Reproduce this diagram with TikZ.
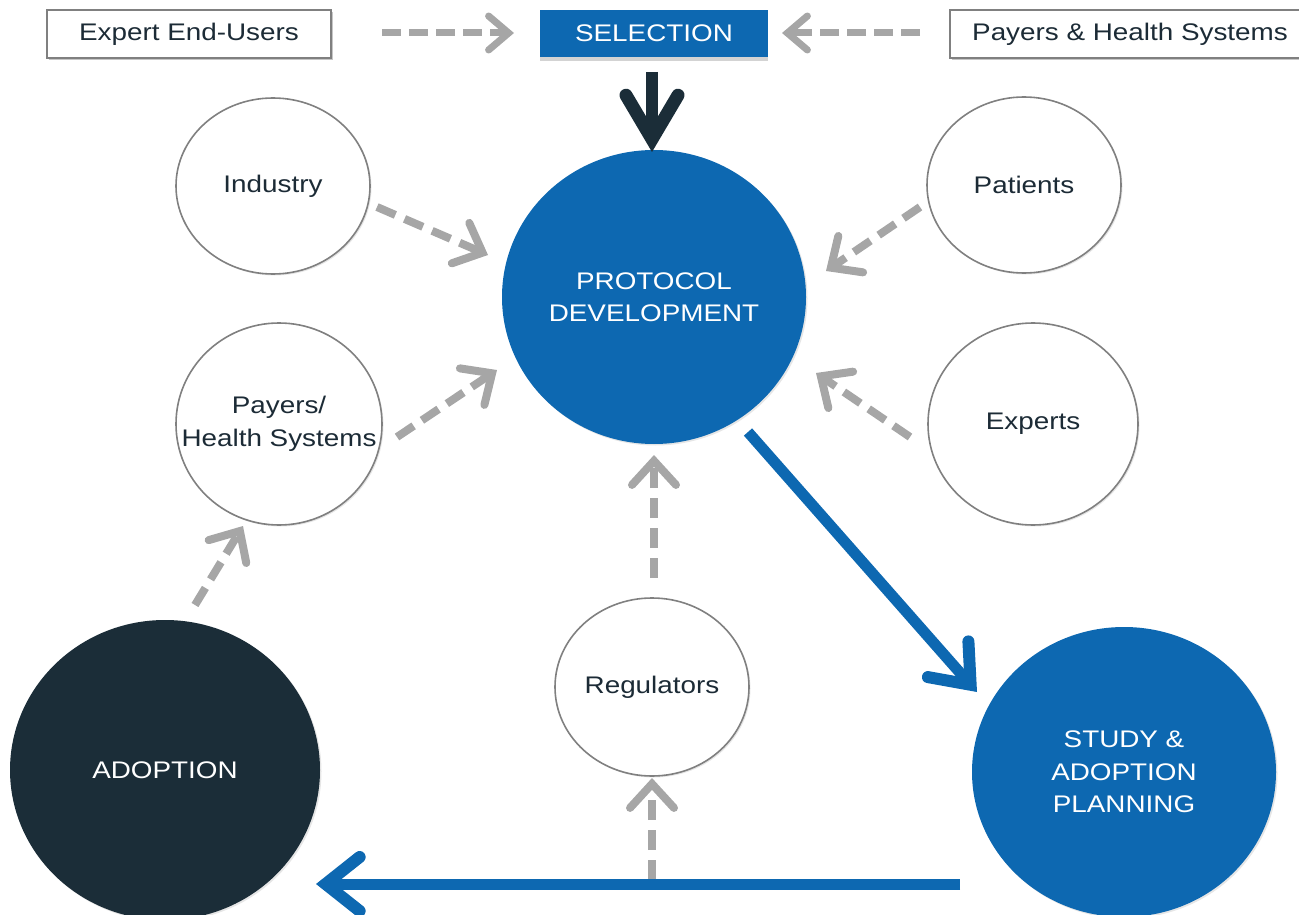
\documentclass[tikz,border=0pt]{standalone}
\usepackage{fontspec}
\setmainfont{Liberation Sans}[FakeStretch=1.16]
\usetikzlibrary{arrows.meta,shapes.geometric,shadows}
\definecolor{pblue}{HTML}{0D68B1}
\definecolor{pdark}{HTML}{1B2D38}
\definecolor{pgray}{HTML}{A6A6A6}
\definecolor{pedge}{HTML}{808080}
\definecolor{ptext}{HTML}{1C2B36}
\begin{document}
\begin{tikzpicture}[x=1pt,y=-1pt,font=\fontsize{24}{32.5}\selectfont,
  outcirc/.style={ellipse,draw=pedge,line width=1.6pt,fill=white,text=ptext,inner sep=0pt,align=center,
    drop shadow={shadow xshift=1.5pt,shadow yshift=-1.5pt,opacity=.2}},
  bluecirc/.style={ellipse,fill=pblue,text=white,inner sep=0pt,align=center,
    drop shadow={shadow xshift=1.5pt,shadow yshift=-1.5pt,opacity=.2}},
  darkcirc/.style={ellipse,fill=pdark,text=white,inner sep=0pt,align=center,
    drop shadow={shadow xshift=1.5pt,shadow yshift=-1.5pt,opacity=.2}},
  topbox/.style={rectangle,draw=pedge,line width=1.2pt,fill=white,text=ptext,minimum height=48pt,inner sep=0pt,
    drop shadow={shadow xshift=2pt,shadow yshift=-2.5pt,opacity=.45}},
  selbox/.style={rectangle,fill=pblue,text=white,minimum height=47pt,inner sep=0pt,
    drop shadow={shadow xshift=0pt,shadow yshift=-4pt,opacity=.35}},
  gsmall/.style={draw=pgray,line width=7pt,dash pattern=on 19pt off 8pt,
    -{Straight Barb[length=20pt 0 0,width=34pt 0 0,line width=7pt 0 0,line cap=round,line join=miter]}},
  garrow/.style={draw=pgray,line width=8pt,dash pattern=on 20pt off 10pt,
    -{Straight Barb[length=24pt 0 0,width=44pt 0 0,line width=8pt 0 0,line cap=round,line join=miter]}},
  barrow/.style={draw=pblue,line width=11pt,
    -{Straight Barb[length=34pt 0 0,width=54pt 0 0,line width=12pt 0 0,line cap=round,line join=miter]}},
  darrow/.style={draw=pdark,line width=12pt,
    -{Straight Barb[length=44pt 0 0,width=52pt 0 0,line width=13pt 0 0,line cap=round,line join=miter]}}
]
\useasboundingbox (0,0) rectangle (1299,915);
\clip (0,0) rectangle (1299,915);

% top row
\node[topbox,minimum width=284pt] (eeu) at (189,34) {Expert End-Users};
\node[selbox,minimum width=228pt] (sel) at (654,33.5) {SELECTION};
\node[topbox,minimum width=360pt] (phs) at (1130,34) {Payers \& Health Systems};

% circles
\node[outcirc,minimum width=194pt,minimum height=176pt] (ind) at (273,186) {\raisebox{-3pt}{Industry}};
\node[outcirc,minimum width=194pt,minimum height=176pt] (pat) at (1024,185) {\raisebox{-2pt}{Patients}};
\node[bluecirc,minimum width=304pt,minimum height=294pt] (proto) at (654,297) {\raisebox{-4pt}{PROTOCOL}\\\raisebox{-4pt}{DEVELOPMENT}};
\node[outcirc,minimum width=206pt,minimum height=202pt,inner xsep=-40pt] (pay) at (279,424) {\raisebox{-3pt}{Payers/}\\\raisebox{-3pt}{Health Systems}};
\node[outcirc,minimum width=210pt,minimum height=202pt] (exp) at (1033,424) {\raisebox{-3pt}{Experts}};
\node[outcirc,minimum width=194pt,minimum height=178pt] (reg) at (652,687) {\raisebox{-2pt}{Regulators}};
\node[darkcirc,minimum width=310pt,minimum height=300pt] (adopt) at (165,770) {\raisebox{-2pt}{ADOPTION}};
\node[bluecirc,minimum width=304pt,minimum height=290pt] (study) at (1124,772) {STUDY \&\\ADOPTION\\PLANNING};

% connector end points
\coordinate (eeuA) at (382,33);  \coordinate (selL) at (514,33);
\coordinate (phsA) at (920,33);  \coordinate (selR) at (782,33);
\coordinate (selB) at (652,72);  \coordinate (protoT) at (652,152);
\coordinate (indA) at (377,207); \coordinate (protoIn) at (488,255);
\coordinate (patA) at (920,207); \coordinate (protoPa) at (826,271);
\coordinate (payA) at (397,437); \coordinate (protoPy) at (497,370);
\coordinate (expA) at (910,437); \coordinate (protoEx) at (816,373);
\coordinate (regA) at (654,578); \coordinate (protoB) at (654,455);
\coordinate (lineR) at (652,880); \coordinate (regB) at (652,778);
\coordinate (adoptA) at (195,605); \coordinate (payB) at (243,526);
\coordinate (protoA) at (748,432); \coordinate (studyIn) at (977,692);
\coordinate (studyA) at (960,884); \coordinate (adoptIn) at (316,884);

% connectors
\draw[gsmall] (eeuA) -- (selL);
\draw[gsmall] (phsA) -- (selR);
\draw[darrow] (selB) -- (protoT);
\draw[garrow] (indA) -- (protoIn);
\draw[garrow] (patA) -- (protoPa);
\draw[garrow] (payA) -- (protoPy);
\draw[garrow] (expA) -- (protoEx);
\draw[garrow] (regA) -- (protoB);
\draw[garrow] (lineR) -- (regB);
\draw[garrow] (adoptA) -- (payB);
\draw[barrow] (protoA) -- (studyIn);
\draw[barrow] (studyA) -- (adoptIn);
\end{tikzpicture}
\end{document}
